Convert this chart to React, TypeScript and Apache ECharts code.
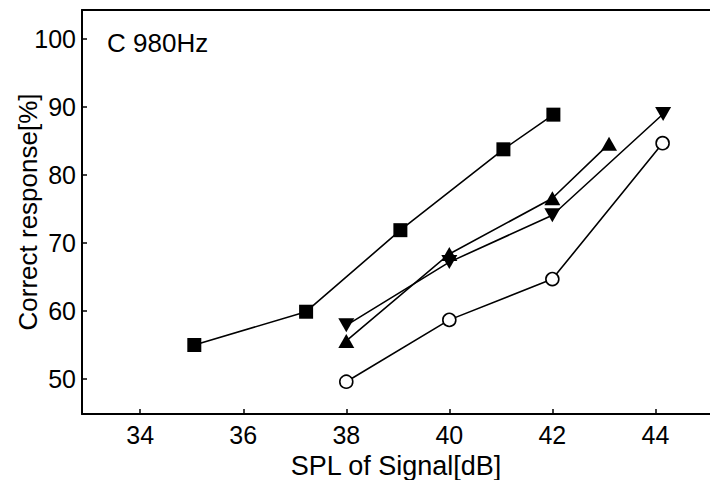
import React, { useEffect, useRef } from "react";
import * as echarts from "echarts";

const xTicks = [34, 36, 38, 40, 42, 44];
const yTicks = [50, 60, 70, 80, 90, 100];

const squareSeries: [number, number][] = [
  [35.05, 55], [37.22, 59.9], [39.05, 71.9], [41.05, 83.8], [42.02, 88.9],
];
const upTriangleSeries: [number, number][] = [
  [38, 55.6], [40, 68.4], [42, 76.6], [43.1, 84.6],
];
const downTriangleSeries: [number, number][] = [
  [38, 57.9], [40, 67.2], [42, 74.1], [44.15, 89],
];
const circleSeries: [number, number][] = [
  [38, 49.6], [40, 58.7], [42, 64.7], [44.14, 84.7],
];

const FONT = "Liberation Sans, Arial, sans-serif";

export default function App() {
  const ref = useRef<HTMLDivElement>(null);
  useEffect(() => {
    document.body.style.margin = "0";
    const chart = echarts.init(ref.current!, null, { renderer: "svg" });
    const lineStyle = { color: "#000", width: 1.6 };
    chart.setOption({
      animation: false,
      backgroundColor: "#fff",
      grid: { left: 82, right: 0, top: 10, bottom: 66, containLabel: false, outerBoundsMode: "none" },
      xAxis: [
        {
          type: "value",
          min: 32.87,
          max: 45.06,
          name: "SPL of Signal[dB]",
          nameLocation: "middle",
          nameGap: 38,
          nameMoveOverlap: false,
          nameTextStyle: { fontSize: 27, color: "#000", fontFamily: FONT },
          axisLine: { show: true, onZero: false, lineStyle: { color: "#000", width: 2 } },
          axisTick: { show: true, inside: true, length: 5, customValues: xTicks, lineStyle: { color: "#000", width: 1.5 } },
          axisLabel: { customValues: xTicks, fontSize: 25, color: "#000", fontFamily: FONT, margin: 8 },
          splitLine: { show: false },
        },
        {
          type: "value",
          position: "top",
          min: 32.87,
          max: 45.06,
          axisLine: { show: true, onZero: false, lineStyle: { color: "#000", width: 2 } },
          axisTick: { show: false },
          axisLabel: { show: false },
          splitLine: { show: false },
        },
      ],
      yAxis: {
        type: "value",
        min: 44.85,
        max: 104.3,
        name: "Correct response[%]",
        nameLocation: "middle",
        nameGap: 41,
        nameMoveOverlap: false,
        nameTextStyle: { fontSize: 26, color: "#000", fontFamily: FONT },
        axisLine: { show: true, onZero: false, lineStyle: { color: "#000", width: 2 } },
        axisTick: { show: true, inside: true, length: 5, customValues: yTicks, lineStyle: { color: "#000", width: 1.5 } },
        axisLabel: { customValues: yTicks, fontSize: 25, color: "#000", fontFamily: FONT, margin: 6 },
        splitLine: { show: false },
      },
      graphic: [
        {
          type: "text",
          x: 107,
          y: 43,
          style: { text: "C 980Hz", fontSize: 26, fill: "#000", fontFamily: FONT, verticalAlign: "middle" },
        },
      ],
      series: [
        {
          type: "line",
          data: squareSeries,
          symbol: "rect",
          symbolSize: 14,
          lineStyle,
          itemStyle: { color: "#000" },
        },
        {
          type: "line",
          data: upTriangleSeries,
          symbol: "triangle",
          symbolSize: [16, 14],
          lineStyle,
          itemStyle: { color: "#000" },
        },
        {
          type: "line",
          data: downTriangleSeries,
          symbol: "triangle",
          symbolRotate: 180,
          symbolSize: [16, 14],
          lineStyle,
          itemStyle: { color: "#000" },
        },
        {
          type: "line",
          data: circleSeries,
          symbol: "circle",
          symbolSize: 13,
          lineStyle,
          itemStyle: { color: "#fff", borderColor: "#000", borderWidth: 1.6 },
        },
      ],
    });
    return () => chart.dispose();
  }, []);
  return <div ref={ref} style={{ width: 710, height: 480 }} />;
}
